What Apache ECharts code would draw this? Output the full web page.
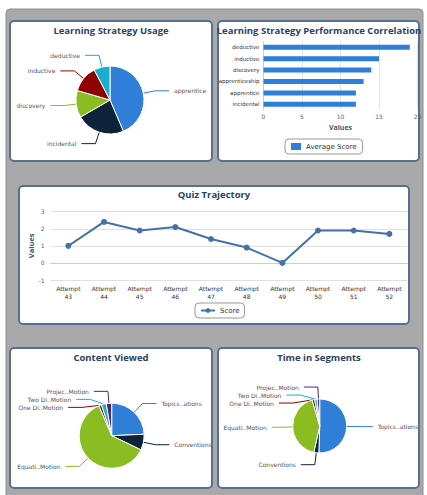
<!DOCTYPE html>
<html><head><meta charset="utf-8">
<script src="https://cdn.jsdelivr.net/npm/echarts@6/dist/echarts.min.js"></script>
<style>html,body{margin:0;padding:0;background:#fff}#c{width:427px;height:495px}</style>
</head><body><div id="c"></div>
<script>
// ---- data ----
const strategyNames = ['apprentice', 'incidental', 'discovery', 'inductive', 'deductive'];
const strategyUsage = [17, 9, 5, 5, 3];

const perfCategories = ['deductive', 'inductive', 'discovery', 'apprenticeship', 'apprentice', 'incidental'];
const perfScores = [19, 15, 14, 13, 12, 12];
const perfTicks = [0, 5, 10, 15, 20];

const attempts = ['Attempt 43', 'Attempt 44', 'Attempt 45', 'Attempt 46', 'Attempt 47', 'Attempt 48', 'Attempt 49', 'Attempt 50', 'Attempt 51', 'Attempt 52'];
const quizScores = [1, 2.4, 1.9, 2.1, 1.4, 0.9, 0, 1.9, 1.9, 1.7];
const quizTicks = [-1, 0, 1, 2, 3];

const segmentNames = ['Topics..ations', 'Conventions', 'Equati..Motion', 'One Di..Motion', 'Two Di..Motion', 'Projec..Motion'];
const contentViewed = [24.3, 7.9, 61.4, 1.3, 2.4, 2.7];
const timeInSegments = [50.5, 3, 42, 1.5, 1.5, 1.5];

// ---- styling ----
const pal = ['#2f7ed8', '#0d233a', '#8bbc21', '#910000', '#1aadce', '#492970'];
const titleColor = '#2b4260';
const lblFont = 'DejaVu Sans';

function panel(x, y, w, h) {
  return { type: 'rect', z: 0, shape: { x: x, y: y, width: w, height: h, r: 4 },
    style: { fill: '#ffffff', stroke: '#57708e', lineWidth: 2 } };
}
function ttl(x, y, text) {
  return { type: 'text', z: 1, x: x, y: y,
    style: { text: text, fill: titleColor, font: 'bold 9.5px "Open Sans"',
      textAlign: 'center', textVerticalAlign: 'middle', align: 'center', verticalAlign: 'middle' } };
}
function pieSeries(name, names, values, center, radius) {
  return {
    type: 'pie', name: name, center: center, radius: radius, startAngle: 90, clockwise: true,
    avoidLabelOverlap: true, animation: false,
    data: names.map((n, i) => ({ name: n, value: values[i], itemStyle: { color: pal[i] },
      label: { color: '#555' } })),
    itemStyle: { borderColor: '#fff', borderWidth: 1 },
    label: { show: true, position: 'outside', formatter: '{b}', fontSize: 6, fontFamily: lblFont,
      color: '#555', overflow: 'none' },
    labelLine: { show: true, length: 12, length2: 14, lineStyle: { width: 1 } },
    emphasis: { disabled: true }
  };
}

const chart = echarts.init(document.getElementById('c'), null, { renderer: 'svg' });
chart.setOption({
  animation: false,
  graphic: [
    { type: 'rect', z: -1, shape: { x: 6, y: 9, width: 417, height: 495, r: 4 },
      style: { fill: '#a9a9ab', stroke: '#8e8e90', lineWidth: 1 } },
    panel(10, 21, 202, 140),
    panel(218, 21, 201, 140),
    panel(19, 186, 390, 138),
    panel(10, 348, 202, 140),
    panel(218, 348, 201, 140),
    ttl(111, 30, 'Learning Strategy Usage'),
    ttl(319, 30, 'Learning Strategy Performance Correlation'),
    ttl(214, 194, 'Quiz Trajectory'),
    ttl(111, 357, 'Content Viewed'),
    ttl(319, 357, 'Time in Segments')
  ],
  grid: [
    { left: 263.5, top: 41.5, width: 154, height: 68.5 },
    { left: 50.5, top: 211.7, width: 356.7, height: 68.3 }
  ],
  legend: [
    { data: ['Average Score'], left: 285, top: 139, itemWidth: 10, itemHeight: 7, icon: 'rect', itemGap: 4,
      borderColor: '#999', borderWidth: 1, borderRadius: 4, padding: [4, 6],
      textStyle: { fontSize: 7, color: '#333', fontFamily: lblFont } },
    { data: ['Score'], left: 195, top: 303, itemWidth: 14, itemHeight: 6, itemGap: 4,
      borderColor: '#999', borderWidth: 1, borderRadius: 4, padding: [4, 5],
      textStyle: { fontSize: 7, color: '#333', fontFamily: lblFont } }
  ],
  xAxis: [
    { gridIndex: 0, type: 'value', min: perfTicks[0], max: perfTicks[perfTicks.length - 1], interval: perfTicks[1] - perfTicks[0],
      axisLabel: { fontSize: 6, color: '#666', margin: 3, fontFamily: lblFont },
      splitLine: { lineStyle: { color: '#e3e3e3' } }, axisLine: { show: false }, axisTick: { show: false },
      name: 'Values', nameLocation: 'middle', nameGap: 14, nameMoveOverlap: false,
      nameTextStyle: { fontWeight: 'bold', fontSize: 7, color: '#3f566e', fontFamily: '"Open Sans"' } },
    { gridIndex: 1, type: 'category', data: attempts, boundaryGap: true,
      axisLabel: { interval: 0, formatter: v => v.replace(' ', '\n'), fontSize: 6, lineHeight: 8.5, color: '#333', margin: 4, fontFamily: lblFont },
      axisTick: { length: 4, lineStyle: { color: '#c0d0e0' } },
      axisLine: { lineStyle: { color: '#c0d0e0' } } }
  ],
  yAxis: [
    { gridIndex: 0, type: 'category', inverse: true, data: perfCategories,
      axisLabel: { fontSize: 5.5, color: '#333', margin: 4, fontFamily: lblFont },
      axisTick: { show: false }, axisLine: { lineStyle: { color: '#c0d0e0' } } },
    { gridIndex: 1, type: 'value', min: quizTicks[0], max: quizTicks[quizTicks.length - 1], interval: quizTicks[1] - quizTicks[0],
      axisLabel: { fontSize: 6, color: '#666', margin: 6, fontFamily: lblFont },
      splitLine: { lineStyle: { color: '#e0e0e0' } }, axisLine: { show: false }, axisTick: { show: false },
      name: 'Values', nameLocation: 'middle', nameGap: 16, nameRotate: 90, nameMoveOverlap: false,
      nameTextStyle: { fontWeight: 'bold', fontSize: 7.5, color: '#3f566e', fontFamily: '"Open Sans"' } }
  ],
  series: [
    pieSeries('Learning Strategy Usage', strategyNames, strategyUsage, [110, 100], 34),
    { type: 'bar', name: 'Average Score', xAxisIndex: 0, yAxisIndex: 0, data: perfScores, barWidth: 5,
      itemStyle: { color: '#2f7ed8' } },
    { type: 'line', name: 'Score', xAxisIndex: 1, yAxisIndex: 1, data: quizScores,
      symbol: 'circle', symbolSize: 6, lineStyle: { width: 2, color: '#4572a7' }, itemStyle: { color: '#4572a7' } },
    pieSeries('Content Viewed', segmentNames, contentViewed, [111.7, 435.7], 32.5),
    pieSeries('Time in Segments', segmentNames, timeInSegments, [319.7, 426], 27)
  ]
});
</script>
</body></html>
